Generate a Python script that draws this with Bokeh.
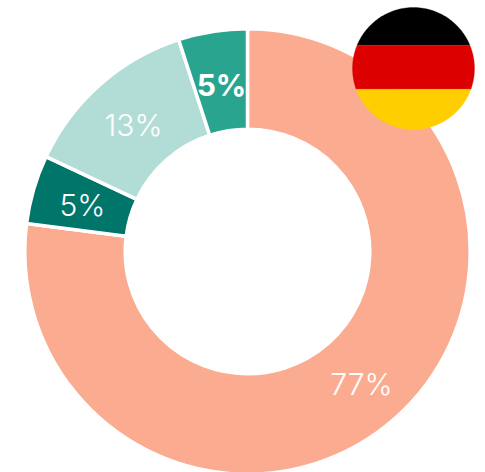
import numpy as np
from bokeh.plotting import figure
from bokeh.models import Range1d
from bokeh.core.properties import value
from bokeh.embed import file_html
from bokeh.resources import INLINE

labels = ["77%", "5%", "13%", "5%"]
values = [77, 5, 13, 5]
colors = ["#FBAB90", "#00756A", "#B2DDD6", "#29A58F"]
label_weights = ["normal", "normal", "normal", "bold"]
flag_colors = ["#000000", "#DD0000", "#FFCE00"]
flag_edges = [1.0, 0.38, -0.34, -1.0]

R_OUT, R_IN = 222.7, 122.3
vals = np.array(values, float)
cum = np.concatenate([[0], np.cumsum(vals)]) / vals.sum() * 2 * np.pi
start = np.pi / 2 - cum[1:]
end = np.pi / 2 - cum[:-1]

p = figure(width=485, height=472, x_range=Range1d(-247, 238), y_range=Range1d(-221, 251),
           output_backend="svg", toolbar_location=None, min_border=0,
           outline_line_color=None, background_fill_color="white")
p.axis.visible = False
p.grid.visible = False

p.annular_wedge(x=0, y=0, inner_radius=R_IN, outer_radius=R_OUT, start_angle=start, end_angle=end,
                fill_color=colors, line_color="white", line_width=3.5)

fx, fy, fr = 166, 183, 61
xs, ys = [], []
for top, bot in zip(flag_edges[:-1], flag_edges[1:]):
    a = np.linspace(np.arcsin(top), np.arcsin(bot), 40)
    xr = np.cos(a)
    xs.append(list(fx + fr * np.concatenate([-xr, xr[::-1]])))
    ys.append(list(fy + fr * np.concatenate([np.sin(a), np.sin(a)[::-1]])))
p.patches(xs, ys, fill_color=flag_colors, line_color=flag_colors, line_width=0.3)

lx = np.array([-247+361, -247+82, -247+133, -247+221], float)
ly = np.array([251-383, 251-204, 251-124, 251-84], float)
for w in ("normal", "bold"):
    idx = [i for i, k in enumerate(label_weights) if k == w]
    p.text(x=lx[idx], y=ly[idx], text=[labels[i] for i in idx], text_color="white",
           text_font=value("Inter" if w == "bold" else "'Inter Light', Inter"), text_font_style=w,
           text_font_size="30px", text_align="center", text_baseline="middle")

open("out.html", "w").write(file_html(p, INLINE))
